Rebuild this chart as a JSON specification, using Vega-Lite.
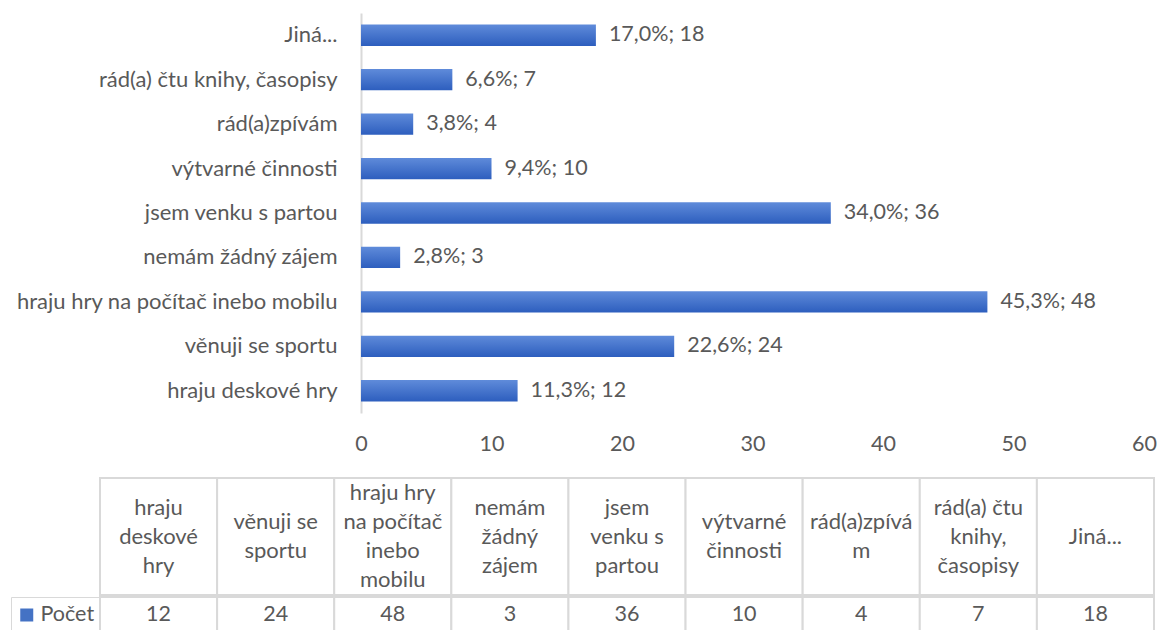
{
  "$schema": "https://vega.github.io/schema/vega-lite/v6.json",
  "padding": {"left": 10, "top": 13, "right": 4, "bottom": 0},
  "background": "white",
  "config": {
    "view": {"stroke": null},
    "font": "Lato",
    "text": {"font": "Lato", "fontSize": 21.5, "color": "#595959"},
    "axis": {"labelFont": "Lato", "labelFontSize": 21.5, "labelColor": "#595959"},
    "legend": {"labelFont": "Lato", "labelFontSize": 21.5, "labelColor": "#595959"}
  },
  "datasets": {
    "d": [
      {"kategorie": "hraju deskové hry", "zahlavi": "hraju\ndeskové\nhry", "pocet": 12, "popisek": "11,3%; 12", "rada": "Počet"},
      {"kategorie": "věnuji se sportu", "zahlavi": "věnuji se\nsportu", "pocet": 24, "popisek": "22,6%; 24", "rada": "Počet"},
      {"kategorie": "hraju hry na počítač inebo mobilu", "zahlavi": "hraju hry\nna počítač\ninebo\nmobilu", "pocet": 48, "popisek": "45,3%; 48", "rada": "Počet"},
      {"kategorie": "nemám žádný zájem", "zahlavi": "nemám\nžádný\nzájem", "pocet": 3, "popisek": "2,8%; 3", "rada": "Počet"},
      {"kategorie": "jsem venku s partou", "zahlavi": "jsem\nvenku s\npartou", "pocet": 36, "popisek": "34,0%; 36", "rada": "Počet"},
      {"kategorie": "výtvarné činnosti", "zahlavi": "výtvarné\nčinnosti", "pocet": 10, "popisek": "9,4%; 10", "rada": "Počet"},
      {"kategorie": "rád(a)zpívám", "zahlavi": "rád(a)zpívá\nm", "pocet": 4, "popisek": "3,8%; 4", "rada": "Počet"},
      {"kategorie": "rád(a) čtu knihy, časopisy", "zahlavi": "rád(a) čtu\nknihy,\nčasopisy", "pocet": 7, "popisek": "6,6%; 7", "rada": "Počet"},
      {"kategorie": "Jiná...", "zahlavi": "Jiná...", "pocet": 18, "popisek": "17,0%; 18", "rada": "Počet"}
    ]
  },
  "columns": 1,
  "spacing": 22,
  "resolve": {"scale": {"color": "independent"}, "legend": {"color": "independent"}},
  "concat": [
    {
      "width": 1044,
      "height": 400,
      "data": {"name": "d"},
      "encoding": {
        "y": {
          "field": "kategorie",
          "type": "nominal",
          "sort": ["Jiná...", "rád(a) čtu knihy, časopisy", "rád(a)zpívám", "výtvarné činnosti", "jsem venku s partou", "nemám žádný zájem", "hraju hry na počítač inebo mobilu", "věnuji se sportu", "hraju deskové hry"],
          "scale": {"paddingInner": 0.52, "paddingOuter": 0.26},
          "axis": {"title": null, "offset": -261, "labelPadding": 24, "ticks": false, "domainColor": "#D9D9D9", "domainWidth": 2, "labelLimit": 500, "labelFontSize": 22}
        }
      },
      "layer": [
        {
          "mark": {
            "type": "bar",
            "fill": {"gradient": "linear", "x1": 0, "y1": 0, "x2": 0, "y2": 1, "stops": [{"offset": 0, "color": "#5F8BDA"}, {"offset": 1, "color": "#2D5EBE"}]}
          },
          "encoding": {
            "x": {
              "field": "pocet",
              "type": "quantitative",
              "scale": {"domain": [-20, 60], "nice": false, "zero": false},
              "axis": {"title": null, "values": [0, 10, 20, 30, 40, 50, 60], "grid": false, "domain": false, "ticks": false, "labelPadding": 20, "labelFlush": false}
            }
          }
        },
        {
          "mark": {"type": "text", "align": "left", "baseline": "middle", "dx": 13},
          "encoding": {
            "x": {"field": "pocet", "type": "quantitative"},
            "text": {"field": "popisek"}
          }
        }
      ]
    },
    {
      "columns": 1,
      "spacing": 0,
      "resolve": {"scale": {"color": "independent"}, "legend": {"color": "independent"}},
      "concat": [
        {
          "width": 1054,
          "height": 117,
          "data": {"name": "d"},
          "encoding": {
            "x": {"field": "kategorie", "type": "nominal", "sort": null, "scale": {"paddingInner": 0, "paddingOuter": 0}, "axis": null}
          },
          "layer": [
            {"mark": {"type": "rect", "fill": "white", "stroke": "#D9D9D9", "strokeWidth": 2}},
            {
              "transform": [{"filter": "length(split(datum.zahlavi, '\\n')) == 1"}],
              "mark": {"type": "text", "lineBreak": "\n", "lineHeight": 29, "baseline": "middle", "fontSize": 22},
              "encoding": {"text": {"field": "zahlavi"}}
            },
            {
              "transform": [{"filter": "length(split(datum.zahlavi, '\\n')) == 2"}],
              "mark": {"type": "text", "lineBreak": "\n", "lineHeight": 29, "baseline": "middle", "dy": -14.5, "fontSize": 22},
              "encoding": {"text": {"field": "zahlavi"}}
            },
            {
              "transform": [{"filter": "length(split(datum.zahlavi, '\\n')) == 3"}],
              "mark": {"type": "text", "lineBreak": "\n", "lineHeight": 29, "baseline": "middle", "dy": -29, "fontSize": 22},
              "encoding": {"text": {"field": "zahlavi"}}
            },
            {
              "transform": [{"filter": "length(split(datum.zahlavi, '\\n')) == 4"}],
              "mark": {"type": "text", "lineBreak": "\n", "lineHeight": 29, "baseline": "middle", "dy": -43.5, "fontSize": 22},
              "encoding": {"text": {"field": "zahlavi"}}
            }
          ]
        },
        {
          "width": 1054,
          "height": 35,
          "data": {"name": "d"},
          "encoding": {
            "x": {"field": "kategorie", "type": "nominal", "sort": null, "scale": {"paddingInner": 0, "paddingOuter": 0}, "axis": null}
          },
          "layer": [
            {"mark": {"type": "rect", "fill": "white", "stroke": "#D9D9D9", "strokeWidth": 2}},
            {
              "mark": {"type": "text", "baseline": "middle"},
              "encoding": {"text": {"field": "pocet", "type": "quantitative"}}
            },
            {
              "transform": [{"filter": "false"}],
              "mark": {"type": "square", "size": 169, "opacity": 1},
              "encoding": {
                "color": {
                  "field": "rada",
                  "type": "nominal",
                  "scale": {"domain": ["Počet"], "range": ["#4472C4"]},
                  "legend": {"title": null, "orient": "left", "offset": 0, "strokeColor": "#D9D9D9", "padding": 5, "symbolOffset": 0, "symbolType": "square", "symbolSize": 169, "symbolStrokeWidth": 0, "labelOffset": 3, "clipHeight": 26}
                }
              }
            }
          ]
        }
      ]
    }
  ]
}
